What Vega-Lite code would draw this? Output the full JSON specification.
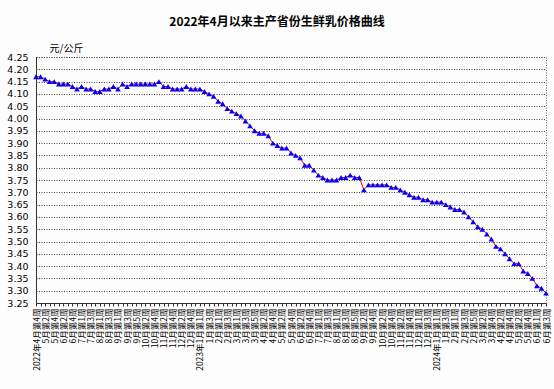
{
  "$schema": "https://vega.github.io/schema/vega-lite/v6.json",
  "autosize": "none",
  "padding": {"left": 36, "top": 57, "right": 8, "bottom": 86},
  "width": 510,
  "height": 246,
  "background": "#fdfdfd",
  "title": {
    "text": "2022年4月以来主产省份生鲜乳价格曲线",
    "fontSize": 12,
    "fontWeight": "bold",
    "font": "Noto Sans CJK SC",
    "color": "#000000",
    "anchor": "middle",
    "frame": "group",
    "dx": -14,
    "offset": 14
  },
  "data": {
    "values": [
      {"week": "2022年4月第4周", "price": 4.17},
      {"week": "2022年5月第1周", "price": 4.17},
      {"week": "2022年5月第2周", "price": 4.16},
      {"week": "2022年5月第3周", "price": 4.15},
      {"week": "2022年5月第4周", "price": 4.15},
      {"week": "2022年6月第1周", "price": 4.14},
      {"week": "2022年6月第2周", "price": 4.14},
      {"week": "2022年6月第3周", "price": 4.14},
      {"week": "2022年6月第4周", "price": 4.13},
      {"week": "2022年6月第5周", "price": 4.12},
      {"week": "2022年7月第1周", "price": 4.13},
      {"week": "2022年7月第2周", "price": 4.12},
      {"week": "2022年7月第3周", "price": 4.12},
      {"week": "2022年7月第4周", "price": 4.11},
      {"week": "2022年8月第1周", "price": 4.11},
      {"week": "2022年8月第2周", "price": 4.12},
      {"week": "2022年8月第3周", "price": 4.12},
      {"week": "2022年8月第4周", "price": 4.13},
      {"week": "2022年9月第1周", "price": 4.12},
      {"week": "2022年9月第2周", "price": 4.14},
      {"week": "2022年9月第3周", "price": 4.13},
      {"week": "2022年9月第4周", "price": 4.14},
      {"week": "2022年9月第5周", "price": 4.14},
      {"week": "2022年10月第1周", "price": 4.14},
      {"week": "2022年10月第2周", "price": 4.14},
      {"week": "2022年10月第3周", "price": 4.14},
      {"week": "2022年10月第4周", "price": 4.14},
      {"week": "2022年11月第1周", "price": 4.15},
      {"week": "2022年11月第2周", "price": 4.13},
      {"week": "2022年11月第3周", "price": 4.13},
      {"week": "2022年11月第4周", "price": 4.12},
      {"week": "2022年12月第1周", "price": 4.12},
      {"week": "2022年12月第2周", "price": 4.12},
      {"week": "2022年12月第3周", "price": 4.13},
      {"week": "2022年12月第4周", "price": 4.12},
      {"week": "2022年12月第5周", "price": 4.12},
      {"week": "2023年1月第1周", "price": 4.12},
      {"week": "2023年1月第2周", "price": 4.11},
      {"week": "2023年1月第3周", "price": 4.10},
      {"week": "2023年1月第4周", "price": 4.09},
      {"week": "2023年2月第1周", "price": 4.07},
      {"week": "2023年2月第2周", "price": 4.06},
      {"week": "2023年2月第3周", "price": 4.04},
      {"week": "2023年2月第4周", "price": 4.03},
      {"week": "2023年3月第1周", "price": 4.02},
      {"week": "2023年3月第2周", "price": 4.01},
      {"week": "2023年3月第3周", "price": 3.99},
      {"week": "2023年3月第4周", "price": 3.97},
      {"week": "2023年3月第5周", "price": 3.95},
      {"week": "2023年4月第1周", "price": 3.94},
      {"week": "2023年4月第2周", "price": 3.94},
      {"week": "2023年4月第3周", "price": 3.93},
      {"week": "2023年4月第4周", "price": 3.90},
      {"week": "2023年5月第1周", "price": 3.89},
      {"week": "2023年5月第2周", "price": 3.88},
      {"week": "2023年5月第3周", "price": 3.88},
      {"week": "2023年5月第4周", "price": 3.86},
      {"week": "2023年6月第1周", "price": 3.85},
      {"week": "2023年6月第2周", "price": 3.84},
      {"week": "2023年6月第3周", "price": 3.81},
      {"week": "2023年6月第4周", "price": 3.81},
      {"week": "2023年6月第5周", "price": 3.79},
      {"week": "2023年7月第1周", "price": 3.77},
      {"week": "2023年7月第2周", "price": 3.76},
      {"week": "2023年7月第3周", "price": 3.75},
      {"week": "2023年7月第4周", "price": 3.75},
      {"week": "2023年8月第1周", "price": 3.75},
      {"week": "2023年8月第2周", "price": 3.76},
      {"week": "2023年8月第3周", "price": 3.76},
      {"week": "2023年8月第4周", "price": 3.77},
      {"week": "2023年8月第5周", "price": 3.76},
      {"week": "2023年9月第1周", "price": 3.76},
      {"week": "2023年9月第2周", "price": 3.71},
      {"week": "2023年9月第3周", "price": 3.73},
      {"week": "2023年9月第4周", "price": 3.73},
      {"week": "2023年10月第1周", "price": 3.73},
      {"week": "2023年10月第2周", "price": 3.73},
      {"week": "2023年10月第3周", "price": 3.73},
      {"week": "2023年10月第4周", "price": 3.72},
      {"week": "2023年11月第1周", "price": 3.72},
      {"week": "2023年11月第2周", "price": 3.71},
      {"week": "2023年11月第3周", "price": 3.70},
      {"week": "2023年11月第4周", "price": 3.69},
      {"week": "2023年11月第5周", "price": 3.68},
      {"week": "2023年12月第1周", "price": 3.68},
      {"week": "2023年12月第2周", "price": 3.67},
      {"week": "2023年12月第3周", "price": 3.67},
      {"week": "2023年12月第4周", "price": 3.66},
      {"week": "2024年1月第1周", "price": 3.66},
      {"week": "2024年1月第2周", "price": 3.66},
      {"week": "2024年1月第3周", "price": 3.65},
      {"week": "2024年1月第4周", "price": 3.64},
      {"week": "2024年2月第1周", "price": 3.63},
      {"week": "2024年2月第2周", "price": 3.63},
      {"week": "2024年2月第3周", "price": 3.62},
      {"week": "2024年2月第4周", "price": 3.60},
      {"week": "2024年2月第5周", "price": 3.58},
      {"week": "2024年3月第1周", "price": 3.56},
      {"week": "2024年3月第2周", "price": 3.55},
      {"week": "2024年3月第3周", "price": 3.53},
      {"week": "2024年3月第4周", "price": 3.51},
      {"week": "2024年4月第1周", "price": 3.48},
      {"week": "2024年4月第2周", "price": 3.47},
      {"week": "2024年4月第3周", "price": 3.45},
      {"week": "2024年4月第4周", "price": 3.43},
      {"week": "2024年5月第1周", "price": 3.41},
      {"week": "2024年5月第2周", "price": 3.41},
      {"week": "2024年5月第3周", "price": 3.38},
      {"week": "2024年5月第4周", "price": 3.37},
      {"week": "2024年5月第5周", "price": 3.35},
      {"week": "2024年6月第1周", "price": 3.32},
      {"week": "2024年6月第2周", "price": 3.31},
      {"week": "2024年6月第3周", "price": 3.29}
    ]
  },
  "encoding": {
    "x": {
      "field": "week",
      "type": "ordinal",
      "sort": null,
      "scale": {"type": "point", "padding": 0},
      "axis": {
        "title": null,
        "labelAngle": 270,
        "labelFontSize": 8.5,
        "labelFont": "Noto Sans CJK SC",
        "labelColor": "#000000",
        "labelPadding": 2,
        "labelOverlap": false,
        "ticks": true,
        "tickSize": 3,
        "tickColor": "#333333",
        "domainColor": "#333333",
        "grid": false,
        "labelExpr": "round(datum.index*112) % 2 == 0 ? ((round(datum.index*112) == 0 || indexof(datum.label, '年1月第1周') > 0) ? datum.label : slice(datum.label, indexof(datum.label, '年') + 1)) : ''"
      }
    },
    "y": {
      "field": "price",
      "type": "quantitative",
      "scale": {"domain": [3.25, 4.25], "nice": false, "zero": false},
      "axis": {
        "title": "元/公斤",
        "titleAngle": 0,
        "titleAlign": "center",
        "titleBaseline": "middle",
        "titleX": 30,
        "titleY": -9,
        "titleFontSize": 10,
        "titleFontWeight": "normal",
        "titleFont": "Noto Sans CJK SC",
        "titleColor": "#000000",
        "tickCount": 20,
        "format": ".2f",
        "labelFontSize": 9.5,
        "labelFont": "DejaVu Sans",
        "labelColor": "#000000",
        "labelPadding": 8,
        "ticks": false,
        "domainColor": "#333333",
        "grid": true,
        "gridColor": "#444444",
        "gridDash": [1, 1.5],
        "gridWidth": 1
      }
    }
  },
  "layer": [
    {"mark": {"type": "line", "color": "#ff0000", "strokeWidth": 1}},
    {"mark": {"type": "point", "shape": "triangle-up", "filled": true, "color": "#0000ff", "size": 32, "opacity": 1}}
  ],
  "config": {
    "view": {"stroke": "#666666", "strokeDash": [1, 1.5]}
  }
}
